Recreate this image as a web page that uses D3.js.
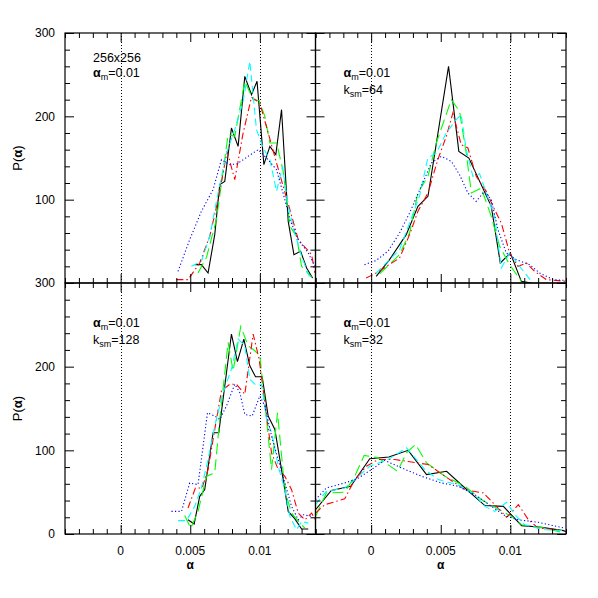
<!DOCTYPE html>
<html>
<head>
<meta charset="utf-8">
<script src="https://cdn.jsdelivr.net/npm/d3@7"></script>
<style>
  body { margin: 0; background: #fff; }
  svg { display: block; font-family: "Liberation Sans", Arial, sans-serif; }
  .tick-label { font-size: 12px; fill: #000; }
  .note { font-size: 12.5px; fill: #000; }
</style>
</head>
<body>
<svg id="chart" width="598" height="598" viewBox="0 0 598 598"></svg>
<script>
// --- data: [alpha, P(alpha)] ----------------------------------------

// top left: 256x256, alpha_m = 0.01
const tlBlack = [[0.00532,22],[0.0058,22],[0.00628,12],[0.00676,58],[0.00712,118],[0.00748,122],[0.00796,186],[0.00844,164],[0.00892,248],[0.0094,226],[0.0098,242],[0.01029,142],[0.01072,164],[0.01115,154],[0.01156,208],[0.01204,74],[0.01245,34],[0.01293,38],[0.01336,18],[0.01379,6]];
const tlGreen = [[0.00556,12],[0.00617,31],[0.00688,76],[0.00731,128],[0.00772,178],[0.0082,176],[0.00892,242],[0.00952,220],[0.00995,219],[0.01036,200],[0.01072,168],[0.0112,168],[0.01168,134],[0.01216,68],[0.01264,56],[0.013,20],[0.01372,7]];
const tlRed   = [[0.004,4],[0.00484,4],[0.00568,24],[0.0064,56],[0.007,100],[0.00765,158],[0.0082,124],[0.0088,180],[0.0094,223],[0.01,216],[0.0106,180],[0.0112,144],[0.01168,116],[0.01216,88],[0.01276,52],[0.01372,34],[0.01396,12]];
const tlCyan  = [[0.00508,20],[0.0058,26],[0.0064,56],[0.007,108],[0.0076,156],[0.0082,184],[0.0088,218],[0.00928,266],[0.00976,184],[0.01024,162],[0.01072,148],[0.0112,110],[0.01163,140],[0.01204,92],[0.01252,60],[0.013,32],[0.0136,6]];
const tlBlue  = [[0.00412,14],[0.00496,52],[0.0058,86],[0.00664,112],[0.00724,148],[0.00784,142],[0.00837,143],[0.00916,152],[0.00988,160],[0.01048,150],[0.0112,136],[0.0118,100],[0.01216,76],[0.01276,52],[0.01348,36],[0.01396,20]];

// top right: k_sm = 64
const trBlack = [[0.00036,8],[0.00132,28],[0.00252,58],[0.00336,92],[0.00408,104],[0.00556,260],[0.0063,158],[0.00702,150],[0.00863,92],[0.00928,24],[0.01,36],[0.01079,2],[0.0115,0]];
const trGreen = [[0.0006,11],[0.00204,34],[0.00276,60],[0.00336,108],[0.00408,128],[0.00468,168],[0.00576,220],[0.00635,206],[0.00683,156],[0.0072,108],[0.00791,114],[0.00863,80],[0.00923,44],[0.00995,22],[0.01079,2]];
const trRed   = [[-0.00036,6],[0.00036,12],[0.00204,30],[0.00276,58],[0.00336,86],[0.00408,108],[0.00479,148],[0.0054,176],[0.00587,204],[0.00647,166],[0.00695,162],[0.00755,128],[0.00827,110],[0.00887,88],[0.00935,72],[0.00995,36],[0.01055,20],[0.01115,24],[0.01175,14],[0.01259,4],[0.01403,2]];
const trCyan  = [[0.00036,12],[0.00132,28],[0.00204,40],[0.00276,72],[0.00347,104],[0.00407,150],[0.00468,156],[0.0054,180],[0.00611,196],[0.00647,202],[0.00683,160],[0.00731,128],[0.00779,131],[0.00827,108],[0.00887,80],[0.00935,18],[0.00995,36],[0.01067,20],[0.01151,2]];
const trBlue  = [[-0.00048,22],[0.00036,27],[0.0012,38],[0.00204,60],[0.00276,84],[0.0036,116],[0.00432,144],[0.00504,152],[0.00576,146],[0.00635,130],[0.00695,108],[0.00755,98],[0.00815,110],[0.00863,100],[0.00911,64],[0.00971,36],[0.01043,28],[0.01139,22],[0.01211,12],[0.01307,4],[0.01403,3]];

// bottom left: k_sm = 128
const blBlack = [[0.00484,17],[0.00528,12],[0.00568,45],[0.00604,53],[0.00664,121],[0.00705,121],[0.00796,239],[0.00839,206],[0.00885,233],[0.00928,201],[0.00969,188],[0.01017,188],[0.0106,141],[0.01108,125],[0.01168,65],[0.01204,27],[0.01252,18],[0.013,6],[0.01348,6]];
const blGreen = [[0.0046,22],[0.00504,7],[0.00556,27],[0.00617,69],[0.00676,73],[0.00712,137],[0.00772,229],[0.00808,195],[0.00863,248],[0.00916,225],[0.00964,219],[0.01,213],[0.01036,157],[0.01084,77],[0.01127,145],[0.01168,73],[0.01192,45],[0.01228,25],[0.01288,13],[0.01324,7]];
const blRed   = [[0.00484,31],[0.00537,55],[0.00585,55],[0.00628,77],[0.00676,125],[0.00724,171],[0.00784,179],[0.00832,179],[0.00892,167],[0.00952,239],[0.00995,209],[0.01036,157],[0.01084,97],[0.01132,77],[0.0118,69],[0.01228,53],[0.01276,25],[0.01324,17],[0.01372,25],[0.0141,14]];
const blCyan  = [[0.00412,16],[0.00473,16],[0.00532,33],[0.0058,55],[0.00628,89],[0.00676,129],[0.00736,169],[0.00796,197],[0.00844,233],[0.00892,225],[0.00928,185],[0.00964,179],[0.01012,179],[0.01048,137],[0.01084,121],[0.01132,81],[0.0118,53],[0.01216,21],[0.01264,5],[0.013,15],[0.01348,13]];
const blBlue  = [[0.00365,27],[0.00437,27],[0.00496,61],[0.00556,59],[0.00624,145],[0.00676,141],[0.00712,137],[0.0076,153],[0.0082,179],[0.00856,169],[0.00892,143],[0.00945,141],[0.01,165],[0.01036,153],[0.01084,117],[0.01132,89],[0.0118,61],[0.01228,33],[0.01276,17],[0.01312,23],[0.01372,21]];

// bottom right: k_sm = 32
const brBlack = [[-0.004,29],[-0.00286,52],[-0.00147,57],[-0.0001,90],[0.00127,92],[0.00266,100],[0.00398,71],[0.00542,75],[0.00674,55],[0.00817,34],[0.0095,33],[0.01081,10],[0.01225,8],[0.01381,4],[0.014,3]];
const brGreen = [[-0.004,21],[-0.00322,49],[-0.0019,50],[-0.00118,69],[-0.0005,94],[0.0005,91],[0.00189,75],[0.00254,97],[0.00319,107],[0.00398,85],[0.0053,69],[0.00674,57],[0.00794,41],[0.00878,33],[0.01009,21],[0.01081,11],[0.01249,7],[0.01369,2]];
const brRed   = [[-0.004,25],[-0.00334,35],[-0.0019,42],[-0.00118,65],[-0.00034,81],[0.0005,89],[0.0017,89],[0.0029,86],[0.0041,83],[0.0053,69],[0.00674,53],[0.00806,49],[0.00889,35],[0.00973,20],[0.01058,35],[0.0113,17],[0.01201,7],[0.01357,5]];
const brCyan  = [[-0.004,35],[-0.00322,51],[-0.0019,55],[-0.00118,65],[-0.0001,81],[0.00122,89],[0.00254,103],[0.00386,77],[0.00482,65],[0.00623,59],[0.00745,47],[0.00817,33],[0.00889,27],[0.00973,38],[0.01033,23],[0.01105,11],[0.01249,5],[0.01393,4]];
const brBlue  = [[-0.004,41],[-0.00322,55],[-0.0019,61],[-0.001,66],[0.00002,77],[0.00098,88],[0.00218,79],[0.00362,69],[0.00506,61],[0.00626,57],[0.00745,47],[0.00865,33],[0.00961,22],[0.01058,17],[0.01201,14],[0.01393,7]];

const xDomain = [-0.004, 0.014];
const yDomain = [0, 300];
const xMajor = [0, 0.005, 0.01];
const yMajor = [0, 100, 200, 300];
const refLines = [0, 0.01];

// line styles: black solid, green long dash, red dash-dot, cyan dash, blue dots
const seriesStyle = [
  {color: "#000000", dash: null},
  {color: "#00ff00", dash: "11,5"},
  {color: "#ff0000", dash: "7,3,1.5,3"},
  {color: "#00ffff", dash: "7,4"},
  {color: "#0000ff", dash: "1.2,2.3"}
];

const panels = [
  {col: 0, row: 0, series: [tlBlack, tlGreen, tlRed, tlCyan, tlBlue], notes: ["256x256", "am"]},
  {col: 1, row: 0, series: [trBlack, trGreen, trRed, trCyan, trBlue], notes: ["am", "k:64"]},
  {col: 0, row: 1, series: [blBlack, blGreen, blRed, blCyan, blBlue], notes: ["am", "k:128"]},
  {col: 1, row: 1, series: [brBlack, brGreen, brRed, brCyan, brBlue], notes: ["am", "k:32"]}
];

// --- layout --------------------------------------------------------
const colX = [[65, 315.5], [315.5, 566]];
const rowY = [[33, 283], [283, 534]];

const svg = d3.select("#chart");

function range(a, b, step) {
  const out = [];
  for (let v = a; v <= b + 1e-9; v += step) out.push(+v.toFixed(6));
  return out;
}
const xMinor = range(-0.004, 0.014, 0.001).filter(v => !xMajor.some(m => Math.abs(m - v) < 1e-9));
const yMinor = range(0, 300, 20).filter(v => v % 100 !== 0);

panels.forEach((p, i) => {
  const [x0, x1] = colX[p.col];
  const [y0, y1] = rowY[p.row];
  const x = d3.scaleLinear().domain(xDomain).range([x0, x1]);
  const y = d3.scaleLinear().domain(yDomain).range([y1, y0]);

  const g = svg.append("g");

  g.append("clipPath").attr("id", "clip" + i)
    .append("rect").attr("x", x0).attr("y", y0).attr("width", x1 - x0).attr("height", y1 - y0);

  // dotted reference lines
  g.selectAll(".ref").data(refLines).enter().append("line")
    .attr("x1", d => Math.round(x(d)) + 0.5).attr("x2", d => Math.round(x(d)) + 0.5)
    .attr("y1", y0).attr("y2", y1)
    .attr("stroke", "#000").attr("stroke-width", 1)
    .attr("stroke-dasharray", "1,2");

  // curves
  const line = d3.line().x(d => x(d[0])).y(d => y(d[1]));
  g.append("g").attr("clip-path", "url(#clip" + i + ")")
    .selectAll("path").data(p.series).enter().append("path")
    .attr("d", line)
    .attr("fill", "none")
    .attr("stroke", (d, k) => seriesStyle[k].color)
    .attr("stroke-width", 1.1)
    .attr("stroke-dasharray", (d, k) => seriesStyle[k].dash);

  // ticks on all four sides, pointing inward
  const axes = [
    [d3.axisTop(x), "translate(0," + y1 + ")", xMajor, xMinor],
    [d3.axisBottom(x), "translate(0," + y0 + ")", xMajor, xMinor],
    [d3.axisRight(y), "translate(" + x0 + ",0)", yMajor, yMinor],
    [d3.axisLeft(y), "translate(" + x1 + ",0)", yMajor, yMinor]
  ];
  axes.forEach(([ax, tr, major, minor]) => {
    [[major, 9], [minor, 5]].forEach(([vals, len]) => {
      const a = g.append("g").attr("transform", tr)
        .call(ax.tickValues(vals).tickSize(len).tickFormat(""));
      a.select(".domain").remove();
      a.selectAll("line").attr("stroke", "#000").attr("stroke-width", 1);
    });
  });

  // frame
  g.append("rect")
    .attr("x", x0).attr("y", y0).attr("width", x1 - x0).attr("height", y1 - y0)
    .attr("fill", "none").attr("stroke", "#000").attr("stroke-width", 1.2);

  // y tick labels on left column
  if (p.col === 0) {
    const yl = p.row === 0 ? yMajor.filter(v => v > 0) : yMajor;
    g.selectAll(".yl").data(yl).enter().append("text")
      .attr("class", "tick-label")
      .attr("x", x0 - 10).attr("y", d => y(d)).attr("dy", "0.36em")
      .attr("text-anchor", "end")
      .text(d => d);
    const yt = g.append("text")
      .attr("transform", "translate(" + 22 + "," + ((y0 + y1) / 2) + ") rotate(-90)")
      .attr("text-anchor", "middle")
      .style("font-size", "13px");
    yt.append("tspan").text("P(");
    yt.append("tspan").style("font-weight", "bold").text("α");
    yt.append("tspan").text(")");
  }

  // x tick labels and title on bottom row
  if (p.row === 1) {
    g.selectAll(".xl").data(xMajor).enter().append("text")
      .attr("class", "tick-label")
      .attr("x", d => x(d)).attr("y", y1 + 21)
      .attr("text-anchor", "middle")
      .text(d => String(d));
    g.append("text")
      .attr("x", (x0 + x1) / 2).attr("y", y1 + 35)
      .attr("text-anchor", "middle")
      .style("font-size", "12px").style("font-weight", "bold")
      .text("α");
  }

  // annotations
  const tx = x0 + 28;
  p.notes.forEach(n => {
    let base;
    if (n === "256x256") base = y0 + 29;
    else if (n === "am") base = y0 + 44;
    else base = y0 + 61;
    const t = g.append("text").attr("class", "note").attr("x", tx).attr("y", base);
    if (n === "256x256") {
      t.text("256x256");
    } else if (n === "am") {
      t.append("tspan").style("font-weight", "bold").text("α");
      t.append("tspan").style("font-size", "9px").attr("dy", 3).text("m");
      t.append("tspan").attr("dy", -3).text("=0.01");
    } else {
      t.append("tspan").text("k");
      t.append("tspan").style("font-size", "9px").attr("dy", 3).text("sm");
      t.append("tspan").attr("dy", -3).text("=" + n.split(":")[1]);
    }
  });
});
</script>
</body>
</html>
